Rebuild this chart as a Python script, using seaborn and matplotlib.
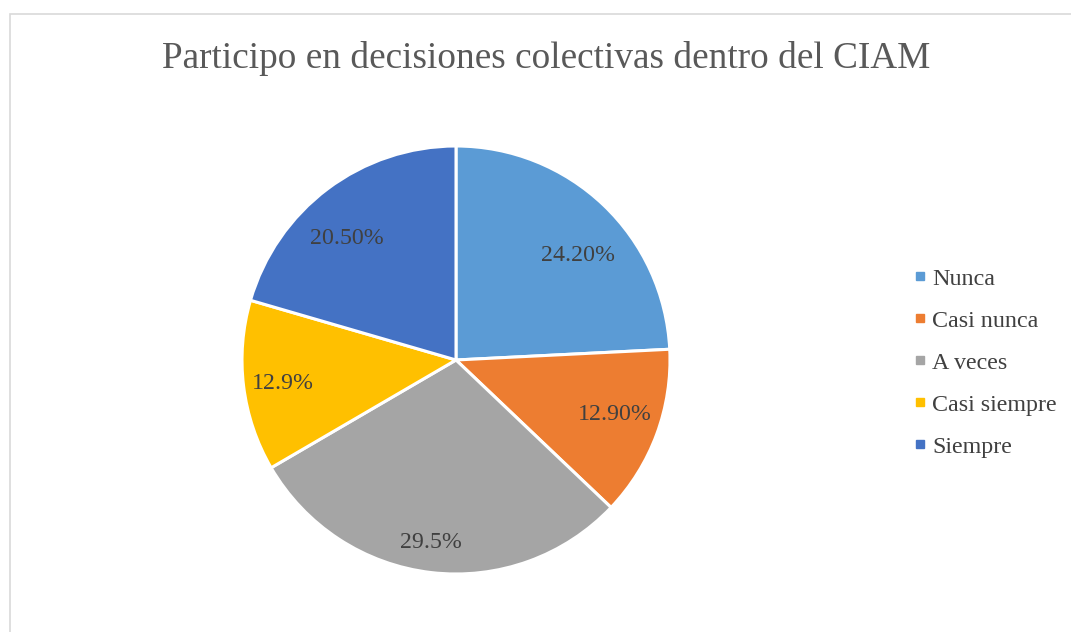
import matplotlib
matplotlib.use("Agg")
import matplotlib.pyplot as plt
from matplotlib.lines import Line2D
from matplotlib.patches import Rectangle
from matplotlib.transforms import ScaledTranslation
import numpy as np
import seaborn as sns

categories = ["Nunca", "Casi nunca", "A veces", "Casi siempre", "Siempre"]
values = [24.2, 12.9, 29.5, 12.9, 20.5]
value_labels = ["24.20%", "12.90%", "29.5%", "12.9%", "20.50%"]
colors = ["#5B9BD5", "#ED7D31", "#A5A5A5", "#FFC000", "#4472C4"]
title = "Participo en decisiones colectivas dentro del CIAM"

# label placement (layout only): radial distance and angular nudge in degrees
label_dist = [0.758, 0.780, 0.849, 0.814, 0.773]
label_nudge = [5.1, -2.5, 1.2, 0.1, -4.5]

sns.set_theme(style="white")
plt.rcParams['font.family'] = ['Liberation Serif', 'DejaVu Serif']

fig = plt.figure(figsize=(10.71, 6.32), dpi=100)
fig.patch.set_facecolor("white")

# chart border
fig.add_artist(Rectangle((9.5 / 1071, -0.05), 1.2, (632 - 14) / 632 + 0.05,
                         transform=fig.transFigure, fill=False,
                         edgecolor="#D9D9D9", linewidth=1.2))

ax = fig.add_axes([(456 - 214) / 1071, (632 - 360 - 214) / 632, 428 / 1071, 428 / 632])
wedges, texts = ax.pie(values, colors=colors, startangle=90, counterclock=False,
                       radius=1.0,
                       wedgeprops=dict(edgecolor="white", linewidth=2.2))
ax.set_xlim(-1, 1)
ax.set_ylim(-1, 1)
ax.set_aspect("equal")
ax.axis("off")

shift = ax.transData + ScaledTranslation(0, -0.03, fig.dpi_scale_trans)
total = sum(values)
cum = 0
for v, lab, d, nd in zip(values, value_labels, label_dist, label_nudge):
    mid = cum + v / 2
    cum += v
    ang = np.deg2rad(90 - (360 * mid / total + nd))
    ax.text(d * np.cos(ang), d * np.sin(ang), lab, ha="center", va="center",
            fontsize=17.2, color="#404040", transform=shift)

fig.text(546 / 1071, 1 - 58 / 632, title, ha="center", va="center",
         fontsize=26.85, color="#595959")

handles = [Line2D([0], [0], marker="s", linestyle="none", markersize=5.8,
                  markerfacecolor=c, markeredgecolor=c) for c in colors]
fig.legend(handles, categories, loc="upper left",
           bbox_to_anchor=(914 / 1071, 1 - 268 / 632),
           frameon=False, fontsize=17.3, labelcolor="#404040",
           handlelength=0.5, handletextpad=0.25, labelspacing=0.84,
           borderpad=0, borderaxespad=0)

fig.savefig("out.png", dpi=100, facecolor="white")
